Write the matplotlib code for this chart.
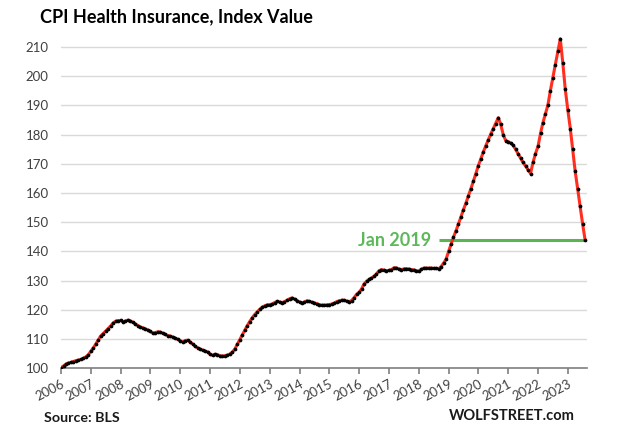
import matplotlib

matplotlib.use("Agg")

import matplotlib.pyplot as plt
import matplotlib.dates as mdates
import pandas as pd

plt.rcParams["font.family"] = ["Lato", "DejaVu Sans"]

# CPI health insurance index, monthly, Jan 2006 - Aug 2023
y2006 = [100.2, 100.8, 101.4, 101.8, 102.0, 102.3, 102.6, 102.8, 103.0, 103.4, 103.9, 104.6]
y2007 = [105.8, 107.0, 108.2, 109.6, 111.0, 111.9, 112.7, 113.6, 114.5, 115.5, 116.1, 116.3]
y2008 = [116.4, 115.9, 116.2, 116.5, 116.2, 115.7, 115.2, 114.6, 114.1, 113.8, 113.5, 113.1]
y2009 = [112.6, 112.0, 112.2, 112.5, 112.4, 112.0, 111.6, 111.2, 111.0, 110.7, 110.3, 109.9]
y2010 = [109.4, 109.0, 109.5, 109.6, 109.0, 108.3, 107.6, 107.0, 106.6, 106.2, 105.9, 105.6]
y2011 = [104.8, 104.4, 104.8, 104.7, 104.3, 104.2, 104.3, 104.5, 104.9, 105.5, 106.6, 108.2]
y2012 = [109.8, 111.5, 113.0, 114.6, 116.0, 117.3, 118.4, 119.3, 120.2, 120.9, 121.4, 121.7]
y2013 = [121.8, 122.0, 122.5, 122.9, 122.7, 122.5, 122.8, 123.3, 123.8, 124.1, 123.7, 123.2]
y2014 = [122.7, 122.3, 122.7, 123.1, 122.9, 122.6, 122.4, 122.1, 121.8, 121.6, 121.6, 121.7]
y2015 = [121.8, 122.0, 122.3, 122.8, 123.1, 123.3, 123.3, 123.0, 122.8, 123.2, 124.2, 125.3]
y2016 = [126.0, 127.2, 128.8, 129.8, 130.4, 130.9, 131.5, 132.3, 133.4, 133.8, 133.6, 133.4]
y2017 = [133.5, 133.8, 134.4, 134.4, 134.0, 133.8, 134.0, 134.1, 134.0, 133.8, 133.7, 133.4]
y2018 = [133.3, 133.9, 134.3, 134.3, 134.3, 134.3, 134.2, 134.2, 134.1, 134.8, 136.0, 137.3]
y2019 = [140.0, 142.5, 144.8, 147.0, 149.3, 151.8, 154.2, 156.5, 159.0, 161.5, 164.0, 166.6]
y2020 = [169.4, 171.8, 174.0, 176.2, 178.2, 180.2, 182.0, 183.8, 185.8, 183.5, 180.0, 178.0]
y2021 = [177.6, 177.1, 176.4, 175.0, 173.5, 171.9, 170.5, 169.3, 168.0, 166.7, 170.5, 173.5]
y2022 = [176.0, 180.5, 184.0, 187.0, 190.0, 195.0, 199.5, 204.0, 208.5, 212.8, 204.5, 195.5]
y2023 = [188.5, 182.0, 175.2, 167.5, 161.5, 155.5, 149.5, 143.9]

values = (y2006 + y2007 + y2008 + y2009 + y2010 + y2011 + y2012 + y2013 + y2014
          + y2015 + y2016 + y2017 + y2018 + y2019 + y2020 + y2021 + y2022 + y2023)
dates = pd.date_range("2006-01-01", periods=len(values), freq="MS")

years = list(range(2006, 2024))
yticks = list(range(100, 211, 10))

ref_label = "Jan 2019"
ref_level = values[-1]
ref_start = pd.Timestamp("2018-09-10")
ref_end = pd.Timestamp("2023-07-20")

fig = plt.figure(figsize=(6.4, 4.48), dpi=100)
ax = fig.add_axes([0.0953, 0.178, 0.822, 0.743])

ax.plot(dates, values, color="#FF2E1F", linewidth=2.2, zorder=3)
ax.plot(dates, values, linestyle="none", marker="o", markersize=2.7,
        markerfacecolor="black", markeredgewidth=0, zorder=4)

ax.hlines(ref_level, ref_start, ref_end, color="#5BB450", linewidth=2.2, zorder=2)
ax.text(pd.Timestamp("2018-06-01"), ref_level, ref_label, color="#5DB85A",
        fontsize=13, fontweight="bold", ha="right", va="center")

ax.set_ylim(100, 214)
ax.set_yticks(yticks)
ax.set_xlim(pd.Timestamp("2006-01-01"), pd.Timestamp("2023-08-25"))
ax.set_xticks([pd.Timestamp(f"{y}-01-01") for y in years])
ax.xaxis.set_major_formatter(mdates.DateFormatter("%Y"))

ax.grid(axis="y", color="#D9D9D9", linewidth=1.0)
ax.set_axisbelow(True)
for side in ("top", "right", "left"):
    ax.spines[side].set_visible(False)
ax.spines["bottom"].set_color("#7F7F7F")
ax.spines["bottom"].set_linewidth(1.2)
ax.tick_params(axis="y", length=0, pad=9, labelsize=9.5, labelcolor="#404040")
ax.tick_params(axis="x", length=4, color="#7F7F7F", width=1.2, pad=3,
               labelsize=9.5, labelcolor="#404040")
plt.setp(ax.get_xticklabels(), rotation=28, ha="right", rotation_mode="anchor")

fig.text(40 / 640, 1 - 17 / 448, "CPI Health Insurance, Index Value",
         fontsize=13, fontweight="bold", color="black", ha="left", va="center")
fig.text(44 / 640, 1 - 418 / 448, "Source: BLS", fontsize=10.3, fontweight="bold",
         color="#1a1a1a", ha="left", va="center")
fig.text(575 / 640, 1 - 416 / 448, "WOLFSTREET.com", fontsize=10.5, fontweight="bold",
         color="#1a1a1a", ha="right", va="center")

fig.savefig("out.png", dpi=100)
plt.close(fig)
